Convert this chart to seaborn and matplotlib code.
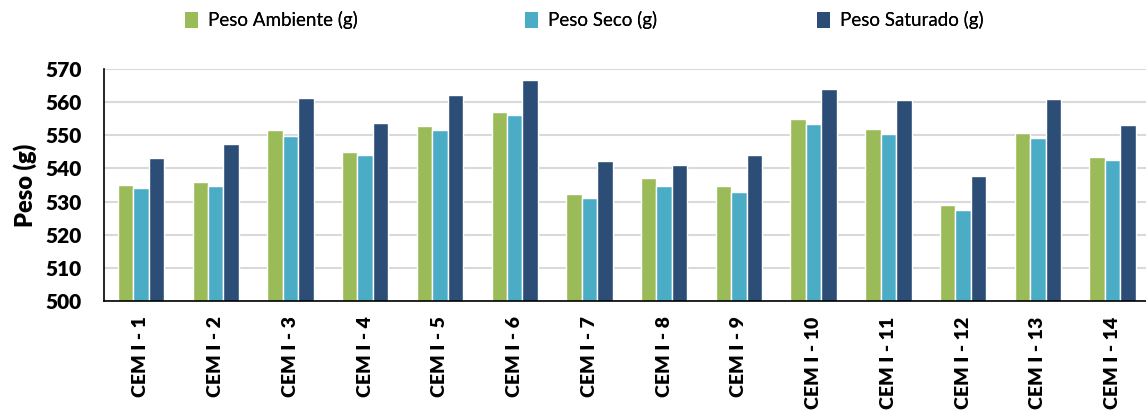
import matplotlib
matplotlib.use("Agg")
import matplotlib.pyplot as plt
from matplotlib.patches import Patch
import seaborn as sns
import pandas as pd

# Sample names and the three weights measured for each (grams)
muestras = [f"CEM I - {i}" for i in range(1, 15)]
peso_ambiente = [535.1, 536.0, 551.6, 545.1, 552.9, 557.1, 532.4,
                 537.2, 534.6, 555.0, 551.8, 528.9, 550.7, 543.3]
peso_seco = [534.1, 534.7, 549.9, 544.1, 551.6, 556.0, 531.0,
             534.8, 533.0, 553.5, 550.4, 527.6, 549.1, 542.6]
peso_saturado = [543.0, 547.5, 561.2, 553.7, 562.2, 566.6, 542.2,
                 541.1, 544.1, 564.1, 560.6, 537.6, 560.9, 553.1]
series = ["Peso Ambiente (g)", "Peso Seco (g)", "Peso Saturado (g)"]
colores = ["#9BBB59", "#4BACC6", "#2C4D75"]
y_ticks = [500, 510, 520, 530, 540, 550, 560, 570]

df = pd.DataFrame({
    "Muestra": muestras * 3,
    "Serie": [series[0]] * 14 + [series[1]] * 14 + [series[2]] * 14,
    "Peso": peso_ambiente + peso_seco + peso_saturado,
})

sns.set_style("white")
plt.rcParams["font.family"] = ["Lato", "DejaVu Sans"]

fig = plt.figure(figsize=(11.46, 4.18), dpi=100)
ax = fig.add_axes([103.6 / 1146, 1 - 301 / 418, (1150 - 103.6) / 1146, (301 - 69) / 418])

sns.barplot(data=df, x="Muestra", y="Peso", hue="Serie", palette=colores,
            hue_order=series, width=0.62, edgecolor="white", linewidth=1.0,
            saturation=1, ax=ax, legend=False)

ax.set_ylim(500, 570)
ax.set_yticks(y_ticks)
ax.set_xlim(-0.5, len(muestras) - 0.5)
ax.yaxis.grid(True, color="#d9d9d9", linewidth=1.5)
ax.set_axisbelow(True)
for s in ["top", "right"]:
    ax.spines[s].set_visible(False)
ax.spines["left"].set_color("black")
ax.spines["left"].set_linewidth(1.2)
ax.spines["bottom"].set_color("black")
ax.spines["bottom"].set_linewidth(1.2)

ax.tick_params(axis="y", length=0, pad=16, labelsize=15, labelcolor="black")
ax.tick_params(axis="x", length=0, pad=11, labelsize=14, labelcolor="black")
for lbl in ax.get_yticklabels():
    lbl.set_fontweight("heavy")
for lbl in ax.get_xticklabels():
    lbl.set_fontweight("heavy")
    lbl.set_rotation(90)

ax.set_xlabel("")
ax.set_ylabel("Peso (g)", fontsize=17, fontweight="heavy", labelpad=6,
              color="black")

# One legend entry per series, spread across the top
x_pos = [185 / 1146, 525 / 1146, 817 / 1146]
for nombre, color, xp in zip(series, colores, x_pos):
    leg = fig.legend(handles=[Patch(facecolor=color, edgecolor="none")],
                     labels=[nombre], loc="center left",
                     bbox_to_anchor=(xp, 1 - 20 / 418), frameon=False,
                     fontsize=13.5, handlelength=0.7, handleheight=0.95,
                     handletextpad=0.5, borderaxespad=0, borderpad=0,
                     labelcolor="black")
    fig.add_artist(leg)

fig.savefig("out.png", dpi=100)
